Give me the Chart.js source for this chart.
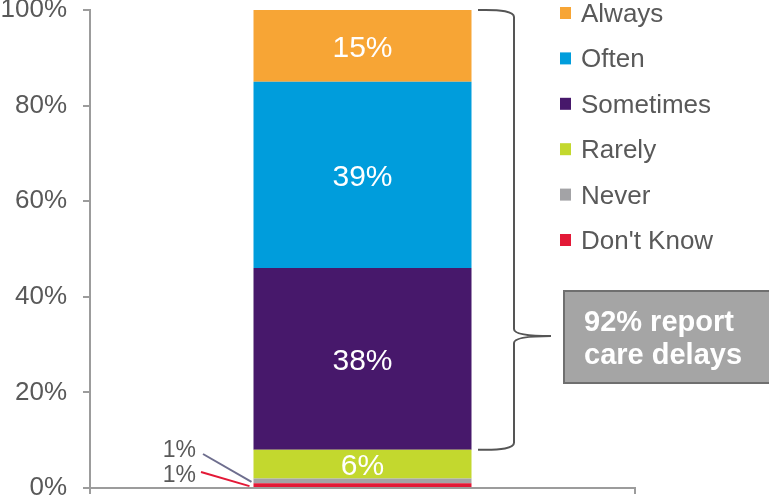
<!DOCTYPE html>
<html>
<head>
<meta charset="utf-8">
<script src="https://cdn.jsdelivr.net/npm/chart.js@4/dist/chart.umd.min.js"></script>
<style>
  html, body { margin: 0; padding: 0; background: #fff; }
  #wrap { width: 769px; height: 500px; }
</style>
</head>
<body>
<div id="wrap"><canvas id="delays" width="769" height="500"></canvas></div>
<script>
// stacked from the bottom up
var categories = ['Care delays'];
var seriesNames = ["Don't Know", 'Never', 'Rarely', 'Sometimes', 'Often', 'Always'];
var seriesValues = [1, 1, 6, 38, 39, 15];
var seriesColors = ['#E31937', '#A3A3A6', '#C3D82E', '#47186B', '#009DDC', '#F7A535'];
var yTicks = [0, 20, 40, 60, 80, 100];
var delayShare = 92; // sometimes + often + always
var calloutLines = [delayShare + '% report', 'care delays'];

var FONT = '"Liberation Sans", Arial, sans-serif';
var GREY_TEXT = '#595959';
var AXIS = '#9c9c9c';

var datasets = seriesNames.map(function (name, i) {
  return {
    label: name,
    data: [seriesValues[i]],
    backgroundColor: seriesColors[i],
    borderWidth: 0,
    barPercentage: 0.4,
    categoryPercentage: 1
  };
});

var extras = {
  id: 'extras',
  afterDatasetsDraw: function (chart) {
    var ctx = chart.ctx;
    var y = chart.scales.y;
    ctx.save();

    // value labels inside the larger segments
    ctx.fillStyle = '#fff';
    ctx.font = '30px ' + FONT;
    ctx.textAlign = 'center';
    ctx.textBaseline = 'alphabetic';
    chart.data.datasets.forEach(function (ds, i) {
      var v = ds.data[0];
      if (v < 5) return;
      var bar = chart.getDatasetMeta(i).data[0];
      ctx.fillText(v + '%', bar.x, (bar.y + bar.base) / 2 + 11);
    });

    // leader labels for the two 1% slivers
    var b0 = chart.getDatasetMeta(0).data[0];
    var b1 = chart.getDatasetMeta(1).data[0];
    var left = b0.x - b0.width / 2;
    ctx.font = '23px ' + FONT;
    ctx.fillStyle = GREY_TEXT;
    ctx.textAlign = 'right';
    ctx.fillText(seriesValues[1] + '%', 196, 457);
    ctx.fillText(seriesValues[0] + '%', 196, 482);
    ctx.lineWidth = 2;
    ctx.strokeStyle = '#6E6E8E';
    ctx.beginPath();
    ctx.moveTo(203, 454);
    ctx.lineTo(left - 2, (b1.y + b1.base) / 2 + 1);
    ctx.stroke();
    ctx.strokeStyle = '#E31937';
    ctx.beginPath();
    ctx.moveTo(201, 472);
    ctx.lineTo(left - 4, (b0.y + b0.base) / 2 + 1);
    ctx.stroke();

    // curly brace spanning sometimes..always
    var top = y.getPixelForValue(100);
    var bot = y.getPixelForValue(100 - delayShare);
    var mid = 336;
    var bx = 514, x0 = 478, tip = 551, r = 7;
    ctx.strokeStyle = '#555';
    ctx.lineWidth = 2;
    ctx.beginPath();
    ctx.moveTo(x0, top);
    ctx.quadraticCurveTo(bx, top - 1, bx, top + r);
    ctx.lineTo(bx, mid - r);
    ctx.quadraticCurveTo(bx, mid, tip, mid);
    ctx.quadraticCurveTo(bx, mid, bx, mid + r);
    ctx.lineTo(bx, bot - r);
    ctx.quadraticCurveTo(bx, bot + 1, x0, bot);
    ctx.stroke();

    // callout box
    ctx.fillStyle = '#A5A5A5';
    ctx.fillRect(564, 291, 210, 92);
    ctx.strokeStyle = '#6F6F6F';
    ctx.lineWidth = 2;
    ctx.strokeRect(564, 291, 210, 92);
    ctx.fillStyle = '#fff';
    ctx.font = 'bold 29px ' + FONT;
    ctx.textAlign = 'left';
    ctx.fillText(calloutLines[0], 584, 331);
    ctx.fillText(calloutLines[1], 584, 364);

    // legend, top entry first
    ctx.font = '26px ' + FONT;
    for (var k = 0; k < seriesNames.length; k++) {
      var idx = seriesNames.length - 1 - k;
      var base = 22 + k * 45.4;
      ctx.fillStyle = seriesColors[idx];
      ctx.fillRect(560, base - 15, 11, 12);
      ctx.fillStyle = GREY_TEXT;
      ctx.fillText(seriesNames[idx], 581, base);
    }
    ctx.restore();
  }
};

new Chart(document.getElementById('delays'), {
  type: 'bar',
  data: { labels: categories, datasets: datasets },
  plugins: [extras],
  options: {
    responsive: false,
    animation: false,
    layout: { padding: { top: 10, right: 134, left: 0, bottom: 0 } },
    plugins: { legend: { display: false }, tooltip: { enabled: false } },
    scales: {
      x: {
        stacked: true,
        grid: { offset: true, drawOnChartArea: false, color: AXIS, lineWidth: 2, tickLength: 6 },
        border: { color: AXIS, width: 2 },
        ticks: { display: false },
        afterFit: function (s) { s.height = 12; }
      },
      y: {
        stacked: true,
        min: 0,
        max: 100,
        afterBuildTicks: function (s) { s.ticks = yTicks.map(function (v) { return { value: v }; }); },
        ticks: {
          padding: 16,
          color: GREY_TEXT,
          font: { size: 26, family: FONT },
          callback: function (v) { return v + '%'; }
        },
        grid: { drawOnChartArea: false, color: AXIS, lineWidth: 2, tickLength: 7 },
        border: { color: AXIS, width: 2 },
        afterFit: function (s) {
          s.width = 90;
          s.paddingTop = 0;
          s.paddingBottom = 0;
        }
      }
    }
  }
});
</script>
</body>
</html>
